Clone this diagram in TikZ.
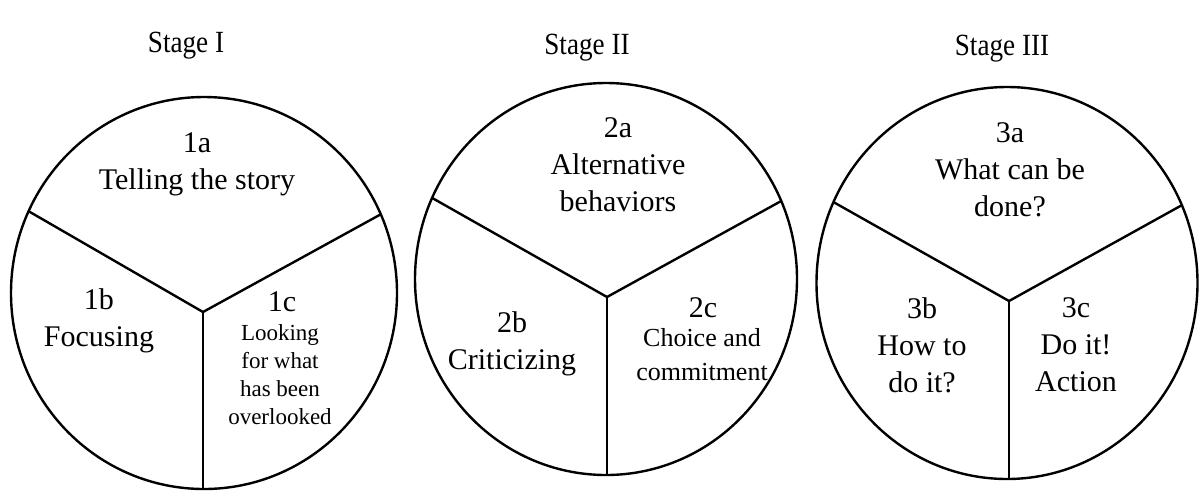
\documentclass[tikz,border=0pt]{standalone}
\usepackage{fontspec}
\setmainfont{Liberation Serif}
\usetikzlibrary{shapes.geometric}
\begin{document}
\begin{tikzpicture}[x=1pt,y=-1pt,
  disc/.style={draw, ellipse, line width=2.4pt, inner sep=0pt, outer sep=0pt},
  spoke/.style={line width=2.4pt},
  big/.style={align=center, inner sep=0pt, font=\fontsize{30}{37}\selectfont},
  small/.style={align=center, inner sep=0pt, font=\fontsize{23}{28}\selectfont},
  mid/.style={align=center, inner sep=0pt, font=\fontsize{26}{34}\selectfont},
  stagelabel/.style={inner sep=0pt, font=\fontsize{28}{34}\selectfont}]
\useasboundingbox (0,0) rectangle (1200,491);
\fill[white] (0,0) rectangle (1200,491);

% stage titles
\node[stagelabel] (s1) at (186,46) {\scalebox{0.97}[1.1]{Stage I}};
\node[stagelabel] (s2) at (587,48) {\scalebox{0.97}[1.1]{Stage II}};
\node[stagelabel] (s3) at (1002,49) {\scalebox{0.97}[1.1]{Stage III}};

% circles
\node[disc, minimum width=386pt, minimum height=392pt] (c1) at (204,293) {};
\node[disc, minimum width=382pt, minimum height=392pt] (c2) at (606,279) {};
\node[disc, minimum width=381pt, minimum height=392pt] (c3) at (1007,283) {};

\coordinate (j1) at (203,312);
\coordinate (j2) at (607,297);
\coordinate (j3) at (1009,301);

\draw[spoke] (c1.155) -- (j1) -- (c1.24);
\draw[spoke] (j1) -- (j1 |- c1.south);
\draw[spoke] (c2.155) -- (j2) -- (c2.24);
\draw[spoke] (j2) -- (j2 |- c2.south);
\draw[spoke] (c3.155) -- (j3) -- (c3.24);
\draw[spoke] (j3) -- (j3 |- c3.south);

% circle 1 texts
\node[big] (t1a) at (197,164) {1a\\Telling the story};
\node[big] (t1b) at (99,321) {1b\\Focusing};
\node[big] (t1c) at (282,302) {1c};
\node[small] (t1cb) at (280,375) {Looking\\for what\\has been\\overlooked};

% circle 2 texts
\node[big] (t2a) at (618,165) {2a\\Alternative\\behaviors};
\node[big] (t2b) at (512,344) {2b\\Criticizing};
\node[big] (t2c) at (703,308) {2c};
\node[mid] (t2cb) at (702,355) {Choice and\\commitment};

% circle 3 texts
\node[big] (t3a) at (1010,170) {3a\\What can be\\done?};
\node[big] (t3b) at (922,345) {3b\\How to\\do it?};
\node[big] (t3c) at (1076,345) {3c\\Do it!\\Action};
\end{tikzpicture}
\end{document}
